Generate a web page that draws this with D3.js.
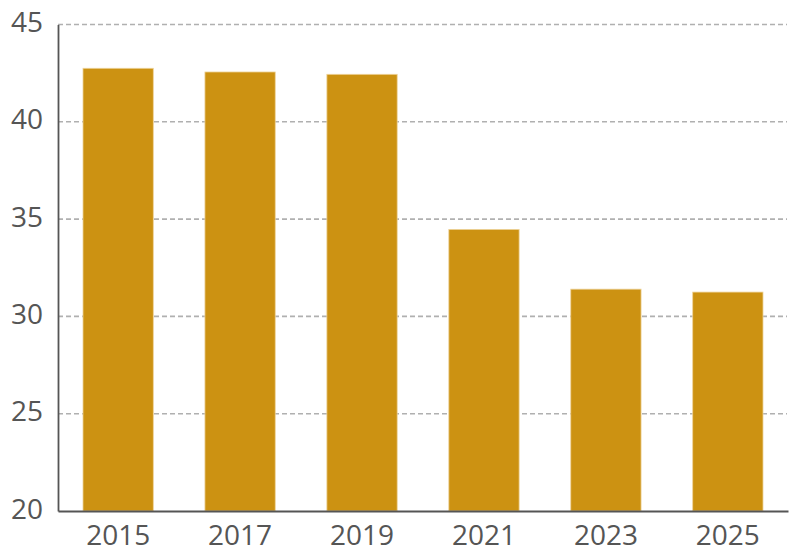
<!DOCTYPE html>
<html>
<head>
<meta charset="utf-8">
<script src="https://cdn.jsdelivr.net/npm/d3@7"></script>
<style>
  body { margin: 0; background: #fff; }
  .tick text { font-family: "Open Sans", sans-serif; font-size: 28px; fill: #555; }
</style>
</head>
<body>
<div id="chart"></div>
<script>
// Werte
var years = ["2015", "2017", "2019", "2021", "2023", "2025"];
var values = [42.75, 42.56, 42.44, 34.47, 31.4, 31.25];
var yTicks = [20, 25, 30, 35, 40, 45];

var width = 800, height = 559;
var plotLeft = 58, plotRight = 788, plotTop = 24.5, plotBottom = 511;

var svg = d3.select("#chart").append("svg")
    .attr("width", width).attr("height", height);

var x = d3.scaleBand().domain(years).range([plotLeft, plotRight])
    .paddingInner(0.4235).paddingOuter(0.205);
var y = d3.scaleLinear().domain([20, 45]).range([plotBottom, plotTop]);

// Gitterlinien (gestrichelt)
svg.append("g").selectAll("line")
    .data(yTicks.filter(function(d){ return d > 20; }))
    .enter().append("line")
    .attr("x1", plotLeft).attr("x2", plotRight - 1)
    .attr("y1", function(d){ return y(d); })
    .attr("y2", function(d){ return y(d); })
    .attr("stroke", "#b0b0b0").attr("stroke-width", 1.6)
    .attr("stroke-dasharray", "5,3");

// Balken
svg.append("g").selectAll("rect")
    .data(values).enter().append("rect")
    .attr("x", function(d, i){ return x(years[i]); })
    .attr("width", x.bandwidth())
    .attr("y", function(d){ return y(d); })
    .attr("height", function(d){ return plotBottom - y(d); })
    .attr("fill", "#cc9212")
    .attr("stroke", "#eed39a").attr("stroke-width", 0.8);

// Achsen
var yAxis = svg.append("g").attr("transform", "translate(" + plotLeft + ",0)")
    .call(d3.axisLeft(y).tickValues(yTicks).tickSize(0).tickPadding(15));
yAxis.select(".domain").attr("stroke", "#555").attr("stroke-width", 1.8);
yAxis.selectAll(".tick text").attr("dy", "0.25em");

var xAxis = svg.append("g").attr("transform", "translate(0," + plotBottom + ")")
    .call(d3.axisBottom(x).tickSize(0).tickPadding(13));
xAxis.select(".domain").attr("stroke", "#555").attr("stroke-width", 1.8);
xAxis.selectAll(".tick text").attr("dy", "0.75em");
</script>
</body>
</html>
